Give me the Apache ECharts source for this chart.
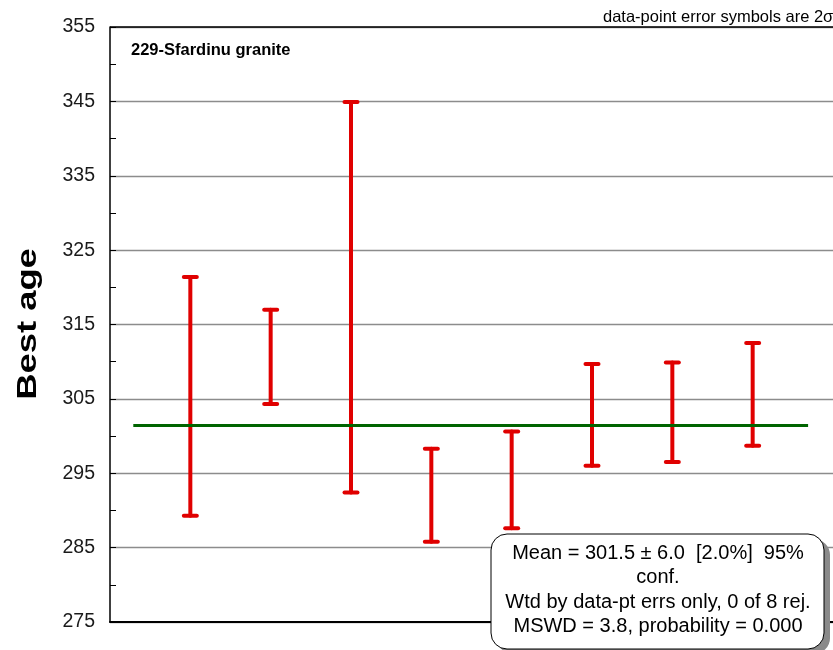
<!DOCTYPE html>
<html>
<head>
<meta charset="utf-8">
<script src="https://cdn.jsdelivr.net/npm/echarts@6/dist/echarts.min.js"></script>
<style>html,body{margin:0;padding:0;background:#fff;}#c{width:833px;height:650px;}</style>
</head>
<body>
<div id="c"></div>
<script>
const pointIndex = [1, 2, 3, 4, 5, 6, 7, 8];
const lowValues  = [289.3, 304.3, 292.4, 285.8, 287.6, 296.0, 296.5, 298.7];
const highValues = [321.4, 317.0, 344.9, 298.3, 300.6, 309.7, 309.9, 312.5];
const meanAge = 301.5;
const meanLineRange = [0.29, 8.69];
const yTicks = { min: 275, max: 355, step: 5 };
const axisName = 'Best age';
const titleText = '229-Sfardinu granite';
const noteText = 'data-point error symbols are 2\u03c3';
const boxLines = [
  'Mean = 301.5 \u00b1 6.0  [2.0%]  95%',
  'conf.',
  'Wtd by data-pt errs only, 0 of 8 rej.',
  'MSWD = 3.8, probability = 0.000'
];

const chart = echarts.init(document.getElementById('c'), null, {renderer: 'canvas'});
const red = '#e00000';
const errData = pointIndex.map((x, i) => [x, lowValues[i], highValues[i]]);

const option = {
  animation: false,
  grid: { left: 110, top: 27, width: 725, height: 595, show: false },
  xAxis: {
    type: 'value', min: 0, max: 9,
    axisLine: { show: true, onZero: false, lineStyle: { color: '#000', width: 2 } },
    axisTick: { show: false }, axisLabel: { show: false }, splitLine: { show: false }
  },
  yAxis: {
    type: 'value', min: yTicks.min, max: yTicks.max, interval: yTicks.step,
    axisLine: { show: true, lineStyle: { color: '#000', width: 1.5 } },
    axisTick: { show: true, inside: true, length: 6, lineStyle: { color: '#000', width: 1 } },
    axisLabel: {
      margin: 15, fontFamily: 'Liberation Sans, Arial', fontSize: 19.5, color: '#1a1a1a',
      formatter: v => ((v - yTicks.min) % 10 === 0 ? String(v) : '')
    },
    splitLine: { show: true, lineStyle: { color: ['#8c8c8c', 'rgba(0,0,0,0)'], width: 1.3 } }
  },
  series: [
    {
      type: 'line', data: [], silent: true,
      markLine: {
        symbol: 'none', silent: true, label: { show: false },
        lineStyle: { color: '#006400', width: 3, type: 'solid' },
        data: [[{ coord: [meanLineRange[0], meanAge] }, { coord: [meanLineRange[1], meanAge] }]]
      }
    },
    {
      type: 'custom', silent: true, clip: false,
      data: errData,
      encode: { x: 0, y: [1, 2] },
      renderItem: function (params, api) {
        const x = api.value(0);
        const lo = api.coord([x, api.value(1)]);
        const hi = api.coord([x, api.value(2)]);
        const hw = 6.5;
        const st = { stroke: red, lineWidth: 4, lineCap: 'round' };
        return {
          type: 'group',
          children: [
            { type: 'line', shape: { x1: lo[0], y1: lo[1], x2: hi[0], y2: hi[1] }, style: st },
            { type: 'line', shape: { x1: lo[0] - hw, y1: lo[1], x2: lo[0] + hw, y2: lo[1] }, style: st },
            { type: 'line', shape: { x1: hi[0] - hw, y1: hi[1], x2: hi[0] + hw, y2: hi[1] }, style: st }
          ]
        };
      }
    }
  ],
  graphic: [
    { type: 'line', shape: { x1: 110, y1: 27, x2: 840, y2: 27 }, style: { stroke: '#000', lineWidth: 1.5 }, z: 10 },
    { type: 'text', x: 28, y: 324, rotation: Math.PI / 2, scaleX: 1.3,
      style: { text: axisName, font: 'bold 28px "Liberation Sans", Arial', fill: '#000', align: 'center', verticalAlign: 'middle' } },
    { type: 'text', x: 131, y: 50, style: { text: titleText, font: 'bold 16.5px "Liberation Sans", Arial', fill: '#000', verticalAlign: 'middle' } },
    { type: 'text', x: 603, y: 17, style: { text: noteText, font: '16.5px "Liberation Sans", Arial', fill: '#000', verticalAlign: 'middle' } },
    { type: 'rect', shape: { x: 497, y: 539, width: 333, height: 115, r: 16 }, style: { fill: '#8a8a8a' }, z: 20 },
    { type: 'rect', shape: { x: 491, y: 534, width: 333, height: 115, r: 16 }, style: { fill: '#fff', stroke: '#000', lineWidth: 1 }, z: 21 },
    ...boxLines.map((t, i) => ({
      type: 'text', z: 22,
      style: { text: t, x: 658, y: 553 + i * 24.5, align: 'center', verticalAlign: 'middle',
               font: '20px "Liberation Sans", Arial', fill: '#000' }
    }))
  ]
};
chart.setOption(option);
</script>
</body>
</html>
